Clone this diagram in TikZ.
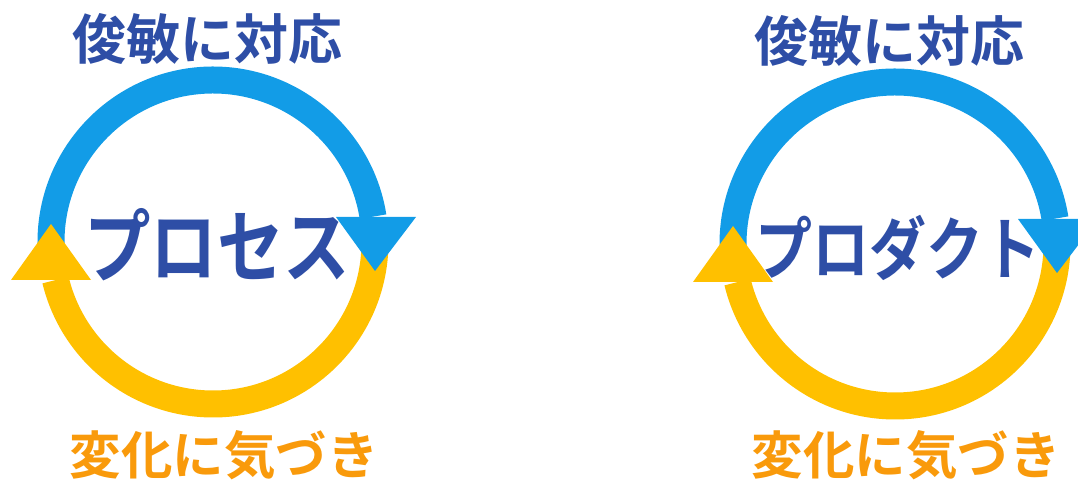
\documentclass[tikz,border=0pt]{standalone}
\usepackage{fontspec}
\newfontfamily\jp{Noto Sans CJK JP}[BoldFont={Noto Sans CJK JP Bold}]
\definecolor{arcblue}{HTML}{129CE7}
\definecolor{arcyellow}{HTML}{FFC000}
\definecolor{txtblue}{HTML}{2E4EA6}
\definecolor{txtorange}{HTML}{F99A0B}
\tikzset{
  shaftblue/.style={draw=arcblue,line width=27pt},
  shaftyellow/.style={draw=arcyellow,line width=27pt},
  headblue/.style={fill=arcblue},
  headyellow/.style={fill=arcyellow},
  toplabel/.style={text=txtblue,font=\jp\bfseries\fontsize{54}{60}\selectfont,inner sep=0pt},
  botlabel/.style={text=txtorange,font=\jp\bfseries\fontsize{51.5}{60}\selectfont,inner sep=0pt},
  midlabel/.style={text=txtblue,inner sep=0pt,transform shape,xscale=0.95,yscale=1.14},
}
\begin{document}
\begin{tikzpicture}[x=1pt,y=1pt]
\useasboundingbox (0,0) rectangle (1078,481);
% left cycle
\begin{scope}[shift={(213,239)}]
  \coordinate (cL) at (0,0);
  \draw[shaftyellow] (-2:162) arc[start angle=-2,end angle=-166.4,radius=162];
  \draw[shaftblue] (183:162) arc[start angle=183,end angle=9,radius=162];
  \fill[headblue] (123,25) -- (203,25) -- (162,-29) -- cycle;
  \fill[headyellow] (-202,-38) -- (-122,-38) -- (-162,18) -- cycle;
\end{scope}
% right cycle
\begin{scope}[shift={(895,237)}]
  \coordinate (cR) at (0,0);
  \draw[shaftyellow] (-2:162) arc[start angle=-2,end angle=-166.4,radius=162];
  \draw[shaftblue] (183:162) arc[start angle=183,end angle=9,radius=162];
  \fill[headblue] (123,25) -- (203,25) -- (162,-29) -- cycle;
  \fill[headyellow] (-202,-38) -- (-122,-38) -- (-162,18) -- cycle;
\end{scope}
\node[toplabel] (tL) at (207,442) {俊敏に対応};
\node[toplabel] (tR) at (889,440) {俊敏に対応};
\node[midlabel,font=\jp\bfseries\fontsize{70}{80}\selectfont] (mL) at (217,236) {プロセス};
\node[midlabel,font=\jp\bfseries\fontsize{60}{70}\selectfont] (mR) at (898,233) {プロダクト};
\node[botlabel] (bL) at (224,26) {変化に気づき};
\node[botlabel] (bR) at (906,26) {変化に気づき};
\end{tikzpicture}
\end{document}
